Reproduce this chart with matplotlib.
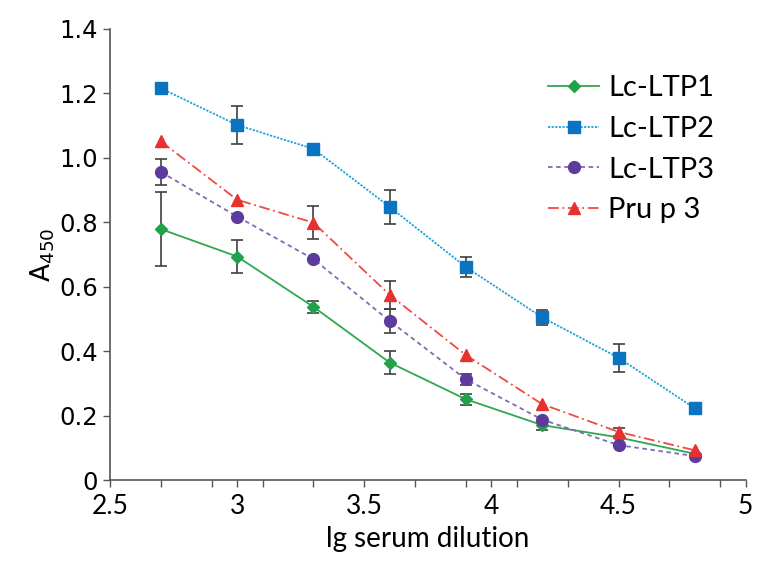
import numpy as np
import matplotlib.pyplot as plt

# lg serum dilution
x = [2.7, 3.0, 3.3, 3.6, 3.9, 4.2, 4.5, 4.8]

ltp1 = [0.779, 0.694, 0.538, 0.365, 0.251, 0.171, 0.133, 0.082]
ltp1_err = [0.115, 0.050, 0.019, 0.036, 0.017, 0.015, 0.0, 0.0]

ltp2 = [1.216, 1.102, 1.028, 0.848, 0.661, 0.505, 0.380, 0.223]
ltp2_err = [0.0, 0.058, 0.0, 0.052, 0.032, 0.024, 0.043, 0.0]

ltp3 = [0.956, 0.818, 0.686, 0.494, 0.313, 0.188, 0.109, 0.075]
ltp3_err = [0.040, 0.0, 0.0, 0.038, 0.018, 0.0, 0.0, 0.0]

prup3 = [1.051, 0.870, 0.799, 0.575, 0.388, 0.236, 0.150, 0.093]
prup3_err = [0.0, 0.0, 0.052, 0.043, 0.0, 0.0, 0.012, 0.0]

fig = plt.figure(figsize=(7.64, 5.67), dpi=100)
ax = fig.add_axes([0.144, 0.153, 0.832, 0.796])

err_style = dict(fmt='none', ecolor='#404040', elinewidth=1.2, capsize=4, capthick=1.2)

# error bars only where there is one (no caps at zero)
for vals, errs in [(ltp1, ltp1_err), (ltp2, ltp2_err), (ltp3, ltp3_err), (prup3, prup3_err)]:
    xs = [xi for xi, e in zip(x, errs) if e > 0]
    ys = [v for v, e in zip(vals, errs) if e > 0]
    es = [e for e in errs if e > 0]
    ax.errorbar(xs, ys, yerr=es, **err_style)

ax.plot(x, ltp1, color='#2fa84f', ls='-', lw=1.3,
        marker='D', ms=6.5, mfc='#1fa24a', mec='#1fa24a', label='Lc-LTP1')
ax.plot(x, ltp2, color='#1aa3d9', ls=(0, (1.2, 0.8)), lw=1.3,
        marker='s', ms=8, mfc='#0a74c2', mec='#0a74c2', label='Lc-LTP2')
ax.plot(x, ltp3, color='#7e6bb5', ls=(0, (2.5, 2)), lw=1.3,
        marker='o', ms=8.5, mfc='#5c3b9c', mec='#5c3b9c', label='Lc-LTP3')
ax.plot(x, prup3, color='#ee4a45', ls=(0, (6, 2, 1, 2)), lw=1.3,
        marker='^', ms=9, mfc='#e8302e', mec='#e8302e', label='Pru p 3')

ax.set_xlim(2.5, 5)
ax.set_ylim(0, 1.4)
ax.set_xticks([2.5, 3, 3.5, 4, 4.5, 5])
ax.set_xticklabels(['2.5', '3', '3.5', '4', '4.5', '5'], family='Lato', fontsize=19)
ax.set_xticks(np.arange(2.5, 5.0, 0.2), minor=True)
ax.set_yticks(np.arange(0, 1.41, 0.2))
ax.set_yticklabels(['0', '0.2', '0.4', '0.6', '0.8', '1.0', '1.2', '1.4'], family='DejaVu Sans', fontsize=17.5)
ax.tick_params(which='both', direction='out', length=5, width=1, color='#555555')
ax.tick_params(axis='x', pad=5)

for s in ['top', 'right']:
    ax.spines[s].set_visible(False)
for s in ['left', 'bottom']:
    ax.spines[s].set_color('#555555')
    ax.spines[s].set_linewidth(1.2)

ax.set_xlabel('lg serum dilution', family='Lato', fontsize=20, labelpad=5)
ax.set_ylabel(r'A$_{\it{450}}$', family='DejaVu Sans', fontsize=19, labelpad=2)

ax.legend(loc='upper left', bbox_to_anchor=(0.648, 0.955), frameon=False,
          prop={'family': 'Lato', 'size': 21}, handlelength=1.75,
          labelspacing=0.5, handletextpad=0.3)

fig.savefig('out.png', dpi=100)
